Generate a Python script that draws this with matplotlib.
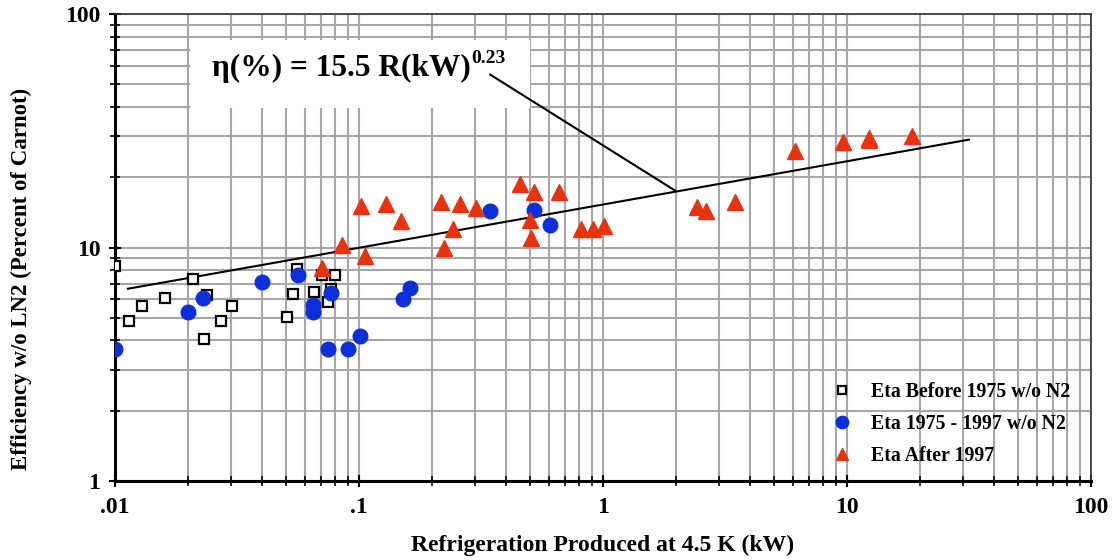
import matplotlib
matplotlib.use("Agg")
import matplotlib.pyplot as plt
from matplotlib.ticker import LogLocator, FixedLocator, NullFormatter
from matplotlib.patches import Rectangle

plt.rcParams['font.family'] = ['Liberation Serif', 'DejaVu Serif']
plt.rcParams['font.weight'] = 'bold'

# Data
before_x = [0.01, 0.0114, 0.0129, 0.0160, 0.0209, 0.0238, 0.0232, 0.0272, 0.0302,
            0.0506, 0.0534, 0.0557, 0.0653, 0.0707, 0.0799, 0.0767, 0.0748]
before_y = [8.35, 4.85, 5.63, 6.09, 7.35, 6.27, 4.06, 4.85, 5.63,
            5.06, 6.35, 8.08, 6.44, 7.64, 7.64, 6.66, 5.84]

mid_x = [0.01, 0.0199, 0.0230, 0.0402, 0.0565, 0.0767, 0.0645, 0.0645, 0.0746,
         0.0904, 0.1005, 0.1509, 0.1623, 0.3434, 0.5236, 0.605]
mid_y = [3.68, 5.30, 6.07, 7.11, 7.64, 6.38, 5.68, 5.29, 3.67,
         3.67, 4.16, 6.01, 6.70, 14.28, 14.5, 12.52]

after_x = [0.0707, 0.0851, 0.106, 0.1018, 0.1285, 0.1486, 0.2175, 0.2223, 0.242,
           0.2585, 0.3007, 0.4557, 0.5236, 0.501, 0.509, 0.659, 0.809, 0.912,
           1.008, 2.435, 2.642, 3.463, 6.10, 9.67, 12.32, 12.32, 18.44]
after_y = [8.16, 10.24, 9.16, 15.0, 15.36, 13.02, 15.6, 9.95, 12.0,
           15.4, 14.76, 18.76, 17.22, 13.15, 10.98, 17.22, 12.03, 12.03,
           12.31, 14.91, 14.38, 15.6, 26.0, 28.2, 29.45, 28.8, 30.1]

fit_x = [0.0113, 31.6]
fit_y = [6.66, 28.97]

leader_x = [0.345, 1.98]
leader_y = [55.0, 17.5]

x_ticks = [0.01, 0.1, 1, 10, 100]
x_labels = ['.01', '.1', '1', '10', '100']
y_ticks = [1, 10, 100]
y_labels = ['1', '10', '100']

series_labels = ['Eta Before 1975 w/o N2', 'Eta 1975 - 1997 w/o N2', 'Eta After 1997']
equation_main = 'η(%) = 15.5 R(kW)'
equation_exp = '0.23'

blue = '#0b2fd9'
red = '#e63310'
grid_c = '#a6a6a6'

fig = plt.figure(figsize=(11.12, 5.6), dpi=100)
ax = fig.add_axes([0.1034, 0.141, 0.8777, 0.834])
ax.set_xscale('log')
ax.set_yscale('log')
ax.set_xlim(0.01, 100)
ax.set_ylim(1, 100)

ax.xaxis.set_major_locator(FixedLocator(x_ticks))
ax.yaxis.set_major_locator(FixedLocator(y_ticks))
ax.xaxis.set_minor_locator(LogLocator(base=10, subs=range(2, 10)))
ax.yaxis.set_minor_locator(LogLocator(base=10, subs=range(2, 10)))
ax.xaxis.set_minor_formatter(NullFormatter())
ax.yaxis.set_minor_formatter(NullFormatter())
ax.set_xticklabels(x_labels, fontsize=17, fontweight='bold')
ax.set_yticklabels(y_labels, fontsize=17, fontweight='bold')

ax.grid(True, which='both', color=grid_c, linewidth=1.5)
ax.set_axisbelow(True)
ax.tick_params(which='major', direction='inout', length=9, width=1.5, pad=6)
ax.tick_params(which='minor', direction='inout', length=7, width=1.2)
ax.tick_params(axis='x', which='major', pad=7)

for side in ['left', 'bottom']:
    ax.spines[side].set_linewidth(2.2)
for side in ['top', 'right']:
    ax.spines[side].set_linewidth(1.2)
    ax.spines[side].set_color('#333333')

# white box behind the equation
ax.add_patch(Rectangle((190 / 1112, 1 - 108 / 560), 340 / 1112, 68 / 560,
                       transform=fig.transFigure, facecolor='white',
                       edgecolor='none', zorder=2))

ax.plot(fit_x, fit_y, color='black', linewidth=1.5, zorder=3)
ax.plot(leader_x, leader_y, color='black', linewidth=1.5, zorder=3)

ax.plot(before_x, before_y, linestyle='none', marker='s', markersize=7.5,
        markerfacecolor='white', markeredgecolor='black', markeredgewidth=1.6,
        zorder=4, label=series_labels[0])
ax.plot(mid_x, mid_y, linestyle='none', marker='o', markersize=10.5,
        markerfacecolor=blue, markeredgecolor=blue, zorder=5, label=series_labels[1])
ax.plot(after_x, after_y, linestyle='none', marker='^', markersize=11,
        markerfacecolor=red, markeredgecolor=red, zorder=5, label=series_labels[2])

t_main = fig.text(212 / 1112, 1 - 76 / 560, equation_main, fontsize=22.6,
                  fontweight='bold', ha='left', va='baseline', zorder=6)
ax.annotate(equation_exp, xy=(1, 0), xycoords=t_main, xytext=(0.5, 14.5),
            textcoords='offset points', fontsize=14, fontweight='bold',
            ha='left', va='baseline', zorder=6)

leg = ax.legend(loc='lower right', bbox_to_anchor=(0.997, -0.006), frameon=False,
                prop={'family': 'Liberation Serif', 'weight': 'bold', 'size': 14.3},
                handletextpad=0.45, labelspacing=0.6, markerscale=0.85)

ax.set_xlabel('Refrigeration Produced at 4.5 K (kW)', fontsize=17, fontweight='bold', labelpad=12)
ax.set_ylabel('Efficiency w/o LN2 (Percent of Carnot)', fontsize=16.5, fontweight='bold', labelpad=21)
ax.yaxis.set_label_coords(-0.085, 0.4325)

fig.savefig('out.png', dpi=100)
